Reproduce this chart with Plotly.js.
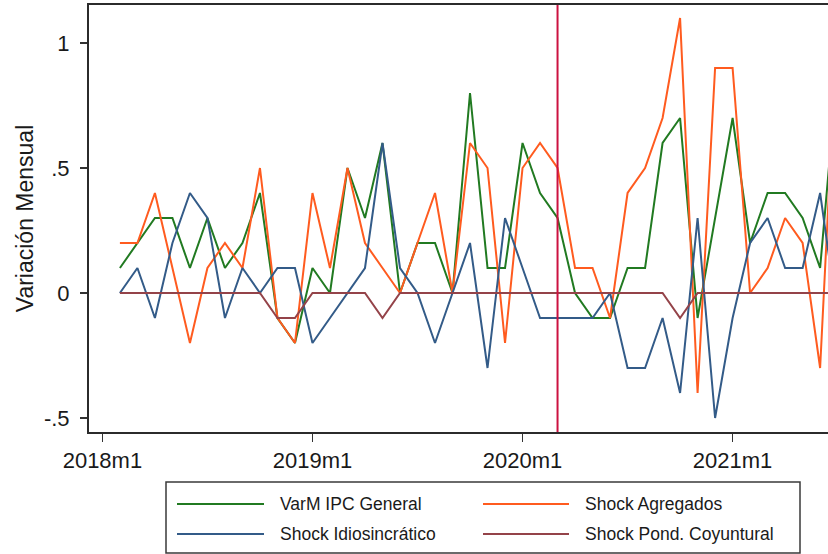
<!DOCTYPE html>
<html>
<head>
<meta charset="utf-8">
<script src="https://cdn.plot.ly/plotly-3.0.1.min.js"></script>
<style>
  html, body { margin: 0; padding: 0; background: #ffffff; }
  #chart { width: 828px; height: 554px; }
</style>
</head>
<body>
<div id="chart"></div>
<script>
// ---- Data ----
const months = [
  "2018m2","2018m3","2018m4","2018m5","2018m6","2018m7","2018m8","2018m9","2018m10","2018m11","2018m12",
  "2019m1","2019m2","2019m3","2019m4","2019m5","2019m6","2019m7","2019m8","2019m9","2019m10","2019m11","2019m12",
  "2020m1","2020m2","2020m3","2020m4","2020m5","2020m6","2020m7","2020m8","2020m9","2020m10","2020m11","2020m12",
  "2021m1","2021m2","2021m3","2021m4","2021m5","2021m6","2021m7"
];
const varmIPCGeneral = [
  0.1,0.2,0.3,0.3,0.1,0.3,0.1,0.2,0.4,-0.1,-0.2,
  0.1,0.0,0.5,0.3,0.6,0.0,0.2,0.2,0.0,0.8,0.1,0.1,
  0.6,0.4,0.3,0.0,-0.1,-0.1,0.1,0.1,0.6,0.7,-0.1,0.3,
  0.7,0.2,0.4,0.4,0.3,0.1,0.9
];
const shockAgregados = [
  0.2,0.2,0.4,0.1,-0.2,0.1,0.2,0.1,0.5,-0.1,-0.2,
  0.4,0.1,0.5,0.2,0.1,0.0,0.2,0.4,0.0,0.6,0.5,-0.2,
  0.5,0.6,0.5,0.1,0.1,-0.1,0.4,0.5,0.7,1.1,-0.4,0.9,
  0.9,0.0,0.1,0.3,0.2,-0.3,1.1
];
const shockIdiosincratico = [
  0.0,0.1,-0.1,0.2,0.4,0.3,-0.1,0.1,0.0,0.1,0.1,
  -0.2,-0.1,0.0,0.1,0.6,0.1,0.0,-0.2,0.0,0.2,-0.3,0.3,
  0.1,-0.1,-0.1,-0.1,-0.1,0.0,-0.3,-0.3,-0.1,-0.4,0.3,-0.5,
  -0.1,0.2,0.3,0.1,0.1,0.4,-0.1
];
const shockPondCoyuntural = [
  0,0,0,0,0,0,0,0,0,-0.1,-0.1,
  0,0,0,0,-0.1,0,0,0,0,0,0,0,
  0,0,0,0,0,0,0,0,0,-0.1,0,0,
  0,0,0,0,0,0,0
];
const seriesNames = ["VarM IPC General","Shock Agregados","Shock Idiosincrático","Shock Pond. Coyuntural"];
const xTickLabels = ["2018m1","2019m1","2020m1","2021m1"];
const yTickValues = [-0.5, 0, 0.5, 1];
const yTickLabels = ["-.5","0",".5","1"];
const markerMonth = "2020m3";
const yTitle = "Variación Mensual";

// ---- Helpers ----
function monthIndex(s) {
  const p = s.split("m");
  return (parseInt(p[0], 10) - 2018) * 12 + (parseInt(p[1], 10) - 1);
}
const xIdx = months.map(monthIndex);

const colors = ["#217a21", "#ff5b1f", "#335b88", "#944349"];
const seriesData = [varmIPCGeneral, shockAgregados, shockIdiosincratico, shockPondCoyuntural];
const FONT = "Liberation Sans, Arial, Helvetica, sans-serif";

const traces = seriesData.map((ys, i) => ({
  type: "scatter",
  mode: "lines",
  x: xIdx,
  y: ys,
  name: seriesNames[i],
  line: { color: colors[i], width: 2 },
  showlegend: false,
  hoverinfo: "skip"
}));

// Layout geometry (pixels)
const W = 828, H = 554;
const M = { l: 89, r: 0, t: 5, b: 122 };
const pw = W - M.l - M.r, ph = H - M.t - M.b;
const px2x = px => (px - M.l) / pw;
const py2y = py => (H - M.b - py) / ph;

// Manual legend (Stata-like box, 2 columns)
const legBox = { x0: 166, x1: 800, y0: 482, y1: 553 };
const legRows = [504, 534];
const legCols = [{ l0: 177, l1: 264, t: 278 }, { l0: 483, l1: 569, t: 583 }];
const shapes = [
  {
    type: "line", xref: "x", yref: "paper",
    x0: monthIndex(markerMonth), x1: monthIndex(markerMonth), y0: 0, y1: 1,
    line: { color: "#cc1140", width: 2 }
  },
  {
    type: "rect", xref: "paper", yref: "paper",
    x0: px2x(legBox.x0), x1: px2x(legBox.x1), y0: py2y(legBox.y1), y1: py2y(legBox.y0),
    line: { color: "#3a3a3a", width: 1.5 }, fillcolor: "rgba(0,0,0,0)", layer: "above"
  }
];
const annotations = [];
seriesNames.forEach((name, i) => {
  const row = Math.floor(i / 2), col = i % 2;
  const c = legCols[col], yy = py2y(legRows[row]);
  shapes.push({
    type: "line", xref: "paper", yref: "paper",
    x0: px2x(c.l0), x1: px2x(c.l1), y0: yy, y1: yy,
    line: { color: colors[i], width: 2 }
  });
  annotations.push({
    xref: "paper", yref: "paper", x: px2x(c.t), y: yy,
    xanchor: "left", yanchor: "middle", showarrow: false,
    text: name, font: { family: FONT, size: 17.5, color: "#1a1a1a" }
  });
});

const layout = {
  width: W, height: H,
  margin: M,
  paper_bgcolor: "#ffffff",
  plot_bgcolor: "#ffffff",
  showlegend: false,
  font: { family: FONT, color: "#1a1a1a" },
  xaxis: {
    range: [-0.766, 41.45],
    tickvals: xTickLabels.map(monthIndex),
    ticktext: xTickLabels,
    ticks: "outside", ticklen: 8, tickwidth: 1.5, tickcolor: "#333333",
    tickfont: { family: FONT, size: 22, color: "#1a1a1a" },
    showgrid: false, zeroline: false,
    showline: true, linecolor: "#2b2b2b", linewidth: 2, mirror: true
  },
  yaxis: {
    range: [-0.556, 1.152],
    tickvals: yTickValues,
    ticktext: yTickLabels,
    ticks: "outside", ticklen: 7, tickwidth: 1.5, tickcolor: "#333333",
    ticklabelstandoff: 6,
    tickfont: { family: FONT, size: 22, color: "#1a1a1a" },
    showgrid: false, zeroline: false,
    showline: true, linecolor: "#2b2b2b", linewidth: 2, mirror: false,
    title: { text: yTitle, font: { family: FONT, size: 23, color: "#1a1a1a" }, standoff: 4 }
  },
  shapes: shapes,
  annotations: annotations
};

Plotly.newPlot("chart", traces, layout, { staticPlot: true, displayModeBar: false });
</script>
</body>
</html>
